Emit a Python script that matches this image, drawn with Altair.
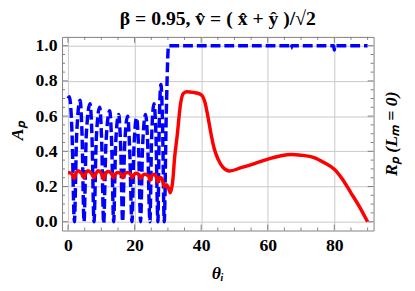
import altair as alt
import pandas as pd

# ---- data ----
theta_blue = [0.0, 0.4, 1.2, 1.9, 2.6, 3.6, 4.2, 4.8, 5.5, 6.6, 7.2, 7.8, 8.5, 9.5,
              10.1, 10.7, 11.4, 12.5, 13.1, 13.7, 14.3, 15.2, 15.8, 16.4, 17.0, 17.9,
              18.5, 19.2, 19.8, 20.6, 21.2, 21.8, 22.4, 23.3, 23.9, 24.6, 25.1, 25.8,
              26.4, 27.0, 27.4, 27.9, 28.4, 28.9, 29.5, 30.2, 66.8, 67.0, 67.2,
              79.8, 80.0, 80.2, 90.0]
a_blue = [0.70, 0.71, 0.50, 0.0, 0.50, 0.69, 0.50, 0.0, 0.50, 0.67, 0.48, 0.0, 0.48, 0.65,
          0.46, -0.01, 0.45, 0.63, 0.45, 0.0, 0.44, 0.61, 0.43, 0.0, 0.43, 0.60,
          0.42, 0.0, 0.42, 0.59, 0.42, 0.0, 0.43, 0.61, 0.46, 0.0, 0.47, 0.67,
          0.50, 0.0, 0.55, 0.78, 0.55, 0.0, 0.60, 1.0, 1.0, 0.985, 1.0,
          1.0, 0.975, 1.0, 1.0]

theta_red = [0.0, 1.0, 1.9, 2.3, 3.0, 4.0, 4.8, 5.3, 6.0, 7.0, 7.8, 8.3, 9.0, 10.0, 10.7,
             11.2, 12.0, 13.0, 13.7, 14.2, 15.0, 16.0, 16.4, 17.0, 17.8, 18.8, 19.2, 19.7,
             20.5, 21.4, 21.8, 22.3, 23.0, 24.2, 24.6, 25.1, 25.8, 26.6, 27.0, 27.4, 28.0,
             28.6, 28.9, 29.5, 30.2, 30.7, 31.5, 32.0, 32.8, 33.8, 34.7, 35.7, 37.5, 39.7,
             40.5, 41.1, 42.0, 43.1, 44.0, 45.1, 46.5, 48.5, 52.0, 56.0, 60.8, 64.0, 67.2,
             70.0, 74.1, 77.0, 80.0, 82.5, 84.9, 87.4, 90.0]
r_red = [0.28, 0.275, 0.245, 0.27, 0.29, 0.275, 0.25, 0.275, 0.29, 0.275, 0.25, 0.27, 0.29,
         0.275, 0.24, 0.27, 0.285, 0.275, 0.25, 0.27, 0.28, 0.27, 0.25, 0.27, 0.28, 0.27,
         0.25, 0.265, 0.275, 0.265, 0.245, 0.26, 0.27, 0.26, 0.235, 0.26, 0.27, 0.25, 0.225,
         0.25, 0.25, 0.22, 0.20, 0.21, 0.19, 0.165, 0.24, 0.36, 0.49, 0.67, 0.73, 0.738,
         0.735, 0.725, 0.71, 0.68, 0.60, 0.485, 0.41, 0.354, 0.31, 0.288, 0.307, 0.33, 0.36,
         0.375, 0.382, 0.378, 0.363, 0.335, 0.298, 0.24, 0.167, 0.09, 0.0]

x_major = [0, 20, 40, 60, 80]
x_minor = [5, 10, 15, 25, 30, 35, 45, 50, 55, 65, 70, 75, 85, 90]
y_major = [0.0, 0.2, 0.4, 0.6, 0.8, 1.0]
y_minor = [0.05, 0.1, 0.15, 0.25, 0.3, 0.35, 0.45, 0.5, 0.55, 0.65, 0.7, 0.75,
           0.85, 0.9, 0.95]

title_text = "β = 0.95,  v̂ = ( x̂ + ŷ )/√2"
ylabel_text = "Aₚ"
xlabel_text = "θᵢ"
rlabel_text = "Rₚ (Lₘ = 0)"

# ---- chart ----
W, H = 317, 197
FONT = "Liberation Serif"
FRAME = "#808080"

xs = alt.Scale(domain=[-1.8, 91.8], nice=False, zero=False)
ys = alt.Scale(domain=[-0.05, 1.05], nice=False, zero=False)

blue_df = pd.DataFrame({"theta": theta_blue, "val": a_blue})
red_df = pd.DataFrame({"theta": theta_red, "val": r_red})

x_axis = alt.Axis(values=x_major, grid=True, gridColor="#c8c8c8", gridWidth=1,
                  ticks=False, domain=False, labelFont=FONT, labelFontWeight="bold",
                  labelFontSize=18, labelColor="black", labelPadding=6, title=None,
                  labelFlush=False)
y_axis = alt.Axis(values=y_major, grid=True, gridColor="#c8c8c8", gridWidth=1,
                  ticks=False, domain=False, labelFont=FONT, labelFontWeight="bold",
                  labelFontSize=18, labelColor="black", labelPadding=5, title=None,
                  format=".1f", labelFlush=False)

blue = alt.Chart(blue_df).mark_line(
    color="#0000ff", strokeWidth=3.5, strokeDash=[10, 4], strokeCap="butt",
    interpolate="monotone"
).encode(
    x=alt.X("theta:Q", scale=xs, axis=x_axis),
    y=alt.Y("val:Q", scale=ys, axis=y_axis),
)

red = alt.Chart(red_df).mark_line(
    color="#ff0000", strokeWidth=3.5, interpolate="monotone"
).encode(
    x=alt.X("theta:Q", scale=xs, axis=x_axis),
    y=alt.Y("val:Q", scale=ys, axis=y_axis),
)


def xticks(vals, length, top):
    df = pd.DataFrame({"theta": vals})
    if top:
        y1, y2 = 0, length
    else:
        y1, y2 = H, H - length
    return alt.Chart(df).mark_rule(color=FRAME, strokeWidth=1).encode(
        x=alt.X("theta:Q", scale=xs, axis=x_axis),
        y=alt.value(y1), y2=alt.value(y2))


def yticks(vals, length, right):
    df = pd.DataFrame({"val": vals})
    if right:
        x1, x2 = W, W - length
    else:
        x1, x2 = 0, length
    return alt.Chart(df).mark_rule(color=FRAME, strokeWidth=1).encode(
        y=alt.Y("val:Q", scale=ys, axis=y_axis),
        x=alt.value(x1), x2=alt.value(x2))


ticks = [xticks(x_major, 6, False), xticks(x_major, 6, True),
         xticks(x_minor, 3, False), xticks(x_minor, 3, True),
         yticks(y_major, 6, False), yticks(y_major, 6, True),
         yticks(y_minor, 3, False), yticks(y_minor, 3, True)]


def label(text, x, y, angle=0, italic=False, size=18):
    return alt.Chart(pd.DataFrame({"t": [text]})).mark_text(
        font=FONT, fontSize=size, fontWeight="bold",
        fontStyle="italic" if italic else "normal",
        angle=angle, align="center", baseline="middle", color="black"
    ).encode(x=alt.value(x), y=alt.value(y), text="t:N")


texts = [
    label(title_text, W / 2, -18, size=20),
    label(ylabel_text, -45, H / 2 - 3, angle=270, italic=True),
    label(xlabel_text, W / 2, 241, italic=True),
    label(rlabel_text, 336, H / 2, angle=270, italic=True),
]

chart = alt.layer(blue, red, *ticks, *texts).properties(
    width=W, height=H,
    padding={"left": 55, "top": 27, "right": 34, "bottom": 51},
    autosize=alt.AutoSizeParams(type="none"),
).configure_view(stroke=FRAME, strokeWidth=1)

chart.save("out.html", embed_options={"renderer": "svg", "actions": False})
